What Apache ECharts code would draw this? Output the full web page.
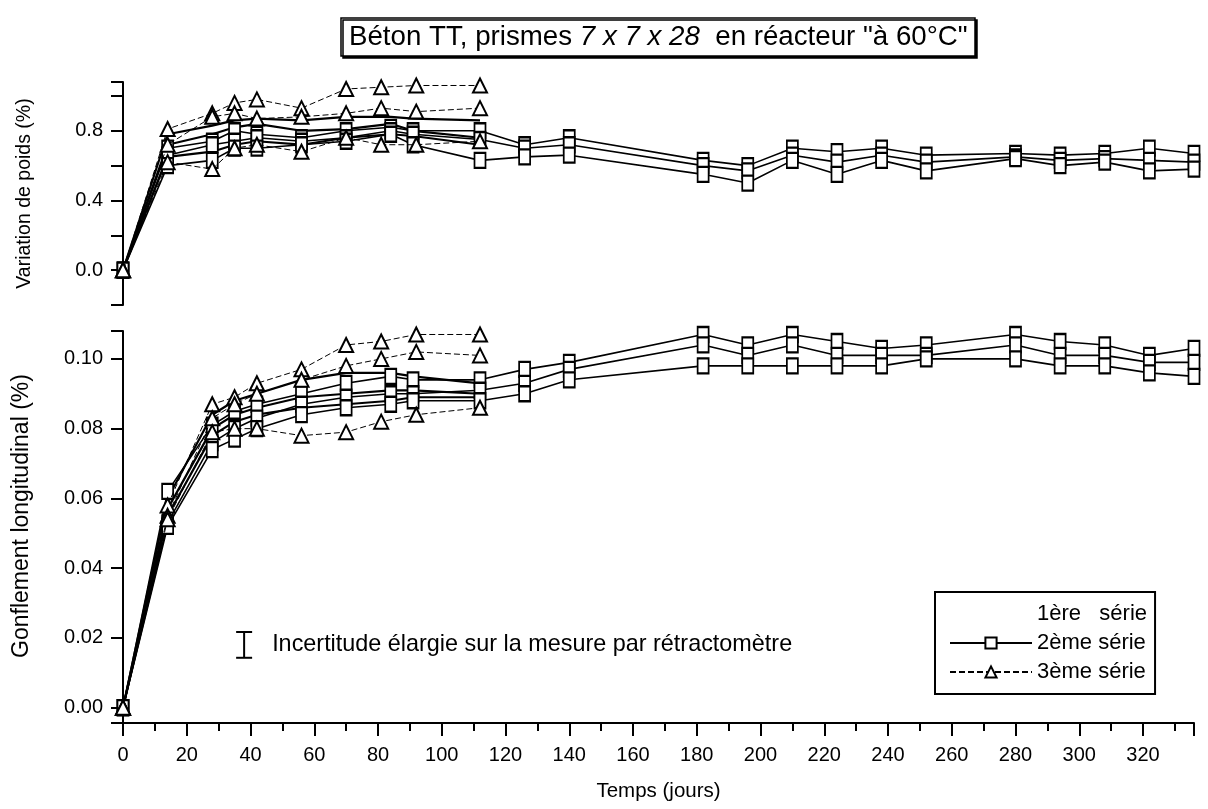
<!DOCTYPE html>
<html>
<head>
<meta charset="utf-8">
<script src="https://cdn.jsdelivr.net/npm/echarts@6/dist/echarts.min.js"></script>
<style>
  html, body { margin: 0; padding: 0; background: #fff; }
  #chart { width: 1208px; height: 809px; }
</style>
</head>
<body>
<div id="chart"></div>
<script>
// jours de mesure
const joursSerie1 = [0, 14, 28, 35, 42, 56, 70, 84, 91, 112];
const joursSerie3 = [0, 14, 28, 35, 42, 56, 70, 81, 92, 112];
const joursSerie2 = [0, 14, 28, 35, 42, 56, 70, 84, 91, 112, 126, 140, 182, 196, 210, 224, 238, 252, 280, 294, 308, 322, 336];

// variation de poids (%)
const poids1a = [0, 0.78, 0.83, 0.86, 0.87, 0.86, 0.88, 0.88, 0.87, 0.86];
const poids1b = [0, 0.72, 0.78, 0.82, 0.84, 0.80, 0.81, 0.84, 0.80, 0.76];
const poids1c = [0, 0.65, 0.68, 0.72, 0.74, 0.72, 0.76, 0.78, 0.77, 0.72];
const poids2a = [0, 0.70, 0.74, 0.80, 0.78, 0.76, 0.80, 0.82, 0.80, 0.80, 0.72, 0.76, 0.63, 0.60, 0.70, 0.68, 0.70, 0.66, 0.67, 0.66, 0.67, 0.70, 0.67];
const poids2b = [0, 0.66, 0.72, 0.74, 0.76, 0.74, 0.76, 0.80, 0.78, 0.75, 0.70, 0.72, 0.60, 0.57, 0.66, 0.62, 0.66, 0.62, 0.65, 0.63, 0.64, 0.63, 0.62];
const poids2c = [0, 0.60, 0.63, 0.70, 0.70, 0.72, 0.74, 0.78, 0.72, 0.63, 0.65, 0.66, 0.55, 0.50, 0.63, 0.55, 0.63, 0.57, 0.64, 0.60, 0.62, 0.57, 0.58];
const poids3a = [0, 0.81, 0.90, 0.96, 0.98, 0.93, 1.04, 1.05, 1.06, 1.06];
const poids3b = [0, 0.72, 0.88, 0.90, 0.87, 0.88, 0.90, 0.93, 0.91, 0.93];
const poids3c = [0, 0.62, 0.58, 0.70, 0.72, 0.68, 0.76, 0.72, 0.72, 0.74];

// gonflement longitudinal (%)
const gonf1a = [0, 0.060, 0.084, 0.088, 0.090, 0.094, 0.096, 0.096, 0.095, 0.093];
const gonf1b = [0, 0.057, 0.080, 0.084, 0.086, 0.089, 0.090, 0.091, 0.091, 0.090];
const gonf1c = [0, 0.055, 0.078, 0.082, 0.084, 0.086, 0.087, 0.088, 0.089, 0.089];
const gonf2a = [0, 0.062, 0.081, 0.085, 0.087, 0.090, 0.093, 0.095, 0.094, 0.094, 0.097, 0.099, 0.107, 0.104, 0.107, 0.105, 0.103, 0.104, 0.107, 0.105, 0.104, 0.101, 0.103];
const gonf2b = [0, 0.053, 0.076, 0.080, 0.083, 0.087, 0.089, 0.090, 0.090, 0.091, 0.093, 0.097, 0.104, 0.101, 0.104, 0.101, 0.101, 0.101, 0.104, 0.101, 0.101, 0.099, 0.099];
const gonf2c = [0, 0.052, 0.074, 0.077, 0.080, 0.084, 0.086, 0.087, 0.088, 0.088, 0.090, 0.094, 0.098, 0.098, 0.098, 0.098, 0.098, 0.100, 0.100, 0.098, 0.098, 0.096, 0.095];
const gonf3a = [0, 0.058, 0.087, 0.089, 0.093, 0.097, 0.104, 0.105, 0.107, 0.107];
const gonf3b = [0, 0.055, 0.083, 0.087, 0.090, 0.094, 0.098, 0.100, 0.102, 0.101];
const gonf3c = [0, 0.054, 0.079, 0.080, 0.080, 0.078, 0.079, 0.082, 0.084, 0.086];

// incertitude du rétractomètre : [jour, haut, bas]
const incertitude = [[38, 0.0217, 0.0143]];

const nomsSeries = ['1ère   série', '2ème série', '3ème série'];
const police = "'Liberation Sans', Arial, sans-serif";

function courbe(nom, jours, valeurs, panneau) {
  const s = {
    name: nom,
    type: 'line',
    xAxisIndex: panneau,
    yAxisIndex: panneau,
    data: jours.map((j, i) => [j, valeurs[i]]),
    animation: false,
    color: '#000',
    showAllSymbol: true
  };
  if (nom === nomsSeries[0]) {
    s.symbol = 'none';
    s.lineStyle = { color: '#000', width: 2.2 };
    s.z = 2;
  } else if (nom === nomsSeries[1]) {
    s.symbol = 'emptyRect';
    s.symbolSize = [11, 15];
    s.lineStyle = { color: '#000', width: 1.6 };
    s.itemStyle = { color: '#000', borderWidth: 1 };
    s.z = 3;
  } else {
    s.symbol = 'emptyTriangle';
    s.symbolSize = 14;
    s.lineStyle = { color: '#000', width: 1, type: [6, 3] };
    s.itemStyle = { color: '#000', borderWidth: 1 };
    s.z = 4;
  }
  return s;
}

const series = [
  courbe(nomsSeries[0], joursSerie1, poids1a, 0),
  courbe(nomsSeries[0], joursSerie1, poids1b, 0),
  courbe(nomsSeries[0], joursSerie1, poids1c, 0),
  courbe(nomsSeries[1], joursSerie2, poids2a, 0),
  courbe(nomsSeries[1], joursSerie2, poids2b, 0),
  courbe(nomsSeries[1], joursSerie2, poids2c, 0),
  courbe(nomsSeries[2], joursSerie3, poids3a, 0),
  courbe(nomsSeries[2], joursSerie3, poids3b, 0),
  courbe(nomsSeries[2], joursSerie3, poids3c, 0),
  courbe(nomsSeries[0], joursSerie1, gonf1a, 1),
  courbe(nomsSeries[0], joursSerie1, gonf1b, 1),
  courbe(nomsSeries[0], joursSerie1, gonf1c, 1),
  courbe(nomsSeries[1], joursSerie2, gonf2a, 1),
  courbe(nomsSeries[1], joursSerie2, gonf2b, 1),
  courbe(nomsSeries[1], joursSerie2, gonf2c, 1),
  courbe(nomsSeries[2], joursSerie3, gonf3a, 1),
  courbe(nomsSeries[2], joursSerie3, gonf3b, 1),
  courbe(nomsSeries[2], joursSerie3, gonf3c, 1),
  {
    type: 'custom',
    xAxisIndex: 1,
    yAxisIndex: 1,
    data: incertitude,
    animation: false,
    renderItem: function (params, api) {
      const haut = api.coord([api.value(0), api.value(1)]);
      const bas = api.coord([api.value(0), api.value(2)]);
      const st = { stroke: '#000', lineWidth: 2 };
      return {
        type: 'group',
        children: [
          { type: 'line', shape: { x1: haut[0], y1: haut[1], x2: bas[0], y2: bas[1] }, style: st },
          { type: 'line', shape: { x1: haut[0] - 8, y1: haut[1], x2: haut[0] + 8, y2: haut[1] }, style: st },
          { type: 'line', shape: { x1: bas[0] - 8, y1: bas[1], x2: bas[0] + 8, y2: bas[1] }, style: st },
          {
            type: 'text',
            style: {
              text: 'Incertitude élargie sur la mesure par rétractomètre',
              x: haut[0] + 28,
              y: (haut[1] + bas[1]) / 2,
              verticalAlign: 'middle',
              fill: '#000',
              font: '23.4px ' + police
            }
          }
        ]
      };
    }
  }
];

const axeY = {
  type: 'value',
  nameLocation: 'middle',
  nameRotate: 90,
  nameGap: 88,
  nameTextStyle: { color: '#000', fontSize: 19, fontFamily: police },
  axisLine: { show: true, onZero: false, lineStyle: { color: '#000', width: 2 } },
  axisTick: { show: true, length: 12, lineStyle: { color: '#000', width: 2 } },
  splitLine: { show: false },
  axisLabel: { color: '#000', fontSize: 20, fontFamily: police, margin: 20 }
};

const option = {
  backgroundColor: '#fff',
  animation: false,
  title: {
    text: '{n|Béton TT, prismes }{i|7 x 7 x 28}{n|  en réacteur "à 60°C"}',
    left: 341,
    top: 18,
    padding: [5, 8, 5, 8],
    borderColor: '#000',
    borderWidth: 1.5,
    backgroundColor: '#fff',
    shadowColor: '#000',
    shadowOffsetX: 2,
    shadowOffsetY: 2,
    shadowBlur: 0,
    textStyle: {
      fontWeight: 'normal',
      rich: {
        n: { fontSize: 27.7, fontFamily: police, fontWeight: 'normal', color: '#000' },
        i: { fontSize: 27.7, fontFamily: police, fontWeight: 'normal', fontStyle: 'italic', color: '#000' }
      }
    }
  },
  legend: {
    data: [
      { name: nomsSeries[0], icon: 'none' },
      { name: nomsSeries[1] },
      { name: nomsSeries[2] }
    ],
    orient: 'vertical',
    left: 935,
    top: 592,
    padding: [11, 8, 11, 14],
    itemGap: 7,
    itemWidth: 82,
    itemHeight: 14,
    borderColor: '#000',
    borderWidth: 2,
    backgroundColor: '#fff',
    selectedMode: false,
    textStyle: { color: '#000', fontSize: 22, fontFamily: police }
  },
  grid: [
    { left: 123, right: 14, top: 82, height: 223 },
    { left: 123, right: 14, top: 331, height: 392 }
  ],
  xAxis: [
    { gridIndex: 0, type: 'value', min: 0, max: 336, show: false },
    {
      gridIndex: 1,
      type: 'value',
      min: 0,
      max: 336,
      interval: 20,
      name: 'Temps (jours)',
      nameLocation: 'middle',
      nameGap: 58,
      nameTextStyle: { color: '#000', fontSize: 20.5, fontFamily: police },
      axisLine: { onZero: false, lineStyle: { color: '#000', width: 2 } },
      axisTick: { length: 13, lineStyle: { color: '#000', width: 2 } },
      minorTick: { show: true, splitNumber: 2, length: 8, lineStyle: { color: '#000', width: 2 } },
      splitLine: { show: false },
      axisLabel: {
        color: '#000',
        fontSize: 20,
        fontFamily: police,
        margin: 22,
        formatter: v => (v % 20 === 0 && v <= 320 ? String(v) : '')
      }
    }
  ],
  yAxis: [
    Object.assign({}, axeY, {
      gridIndex: 0,
      min: -0.2,
      max: 1.08,
      interval: 0.2,
      name: 'Variation de poids (%)',
      nameTextStyle: { color: '#000', fontSize: 19.5, fontFamily: police },
      axisLabel: Object.assign({}, axeY.axisLabel, {
        formatter: v => {
          const r = Math.round(v * 10) / 10;
          return Math.abs(v - r) < 1e-6 && (r === 0 || r === 0.4 || r === 0.8) ? r.toFixed(1) : '';
        }
      })
    }),
    Object.assign({}, axeY, {
      gridIndex: 1,
      min: -0.0044,
      max: 0.108,
      name: 'Gonflement longitudinal (%)',
      nameGap: 90,
      nameTextStyle: { color: '#000', fontSize: 23, fontFamily: police, padding: [0, 0, 0, 22] },
      axisLabel: Object.assign({}, axeY.axisLabel, {
        formatter: v => {
          const r = Math.round(v * 50) / 50;
          return Math.abs(v - r) < 1e-7 && r >= 0 && r <= 0.1 ? r.toFixed(2) : '';
        }
      })
    })
  ],
  series: series
};

const chart = echarts.init(document.getElementById('chart'));
chart.setOption(option);
</script>
</body>
</html>
